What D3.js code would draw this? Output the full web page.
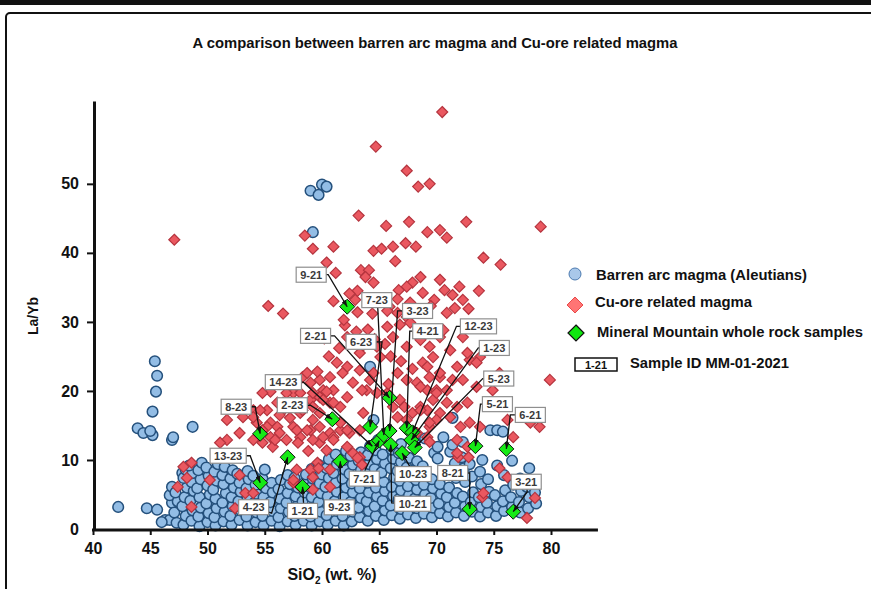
<html>
<head>
<meta charset="utf-8">
<style>
body {
  margin: 0;
  background: #ffffff;
}

svg {
  display: block;
  font-family: "Liberation Sans Narrow", "Arial Narrow", "Liberation Sans", Arial, sans-serif;
  font-weight: bold;
}
</style>
</head>
<body>
<script type="text/javascript" src="https://cdnjs.cloudflare.com/ajax/libs/d3/7.8.5/d3.min.js"></script>
<script type="text/javascript">
// barren arc magma (Aleutians): [SiO2, La/Yb]
var barren = [
  [42.2,3.2],[44.7,3.0],[45.6,2.8],[46.3,1.3],[46.7,1.3],[46.0,1.0],[46.9,3.8],[46.7,4.9],[46.9,6.1],[47.8,8.1],
  [45.4,24.3],[45.6,22.2],[45.5,19.9],[45.2,17.0],[43.9,14.6],[44.4,13.9],[45.2,13.6],[45.0,14.2],[46.9,12.9],[47.0,13.3],[48.7,14.8],
  [59.0,49.0],[59.7,48.4],[60.0,49.9],[60.4,49.6],[59.2,43.0],[64.2,23.5],
  [47.3,0.9],[47.1,2.4],[47.4,4.0],[47.2,5.3],
  [47.9,0.6],[48.1,1.9],[47.8,3.3],[48.0,4.6],[48.2,6.0],[47.9,7.4],[48.1,8.6],
  [48.6,1.2],[48.7,2.7],[48.5,4.1],[48.8,5.5],[48.6,6.8],[48.7,8.1],[48.4,9.2],
  [49.3,0.4],[49.2,1.8],[49.4,3.1],[49.3,4.6],[49.1,5.9],[49.4,7.2],[49.2,8.5],[49.5,9.6],
  [50.0,1.0],[50.1,2.3],[49.9,3.7],[50.2,5.0],[50.0,6.3],[50.1,7.7],[49.9,8.9],
  [50.7,0.5],[50.6,1.7],[50.8,3.0],[50.7,4.4],[50.5,5.7],[50.8,7.0],[50.6,8.3],[50.9,9.4],
  [51.4,1.1],[51.5,2.5],[51.3,3.8],[51.6,5.2],[51.4,6.5],[51.3,7.8],[51.5,9.0],
  [52.1,0.6],[52.0,1.9],[52.2,3.3],[52.1,4.6],[52.3,6.0],[52.0,7.3],[52.2,8.5],
  [52.8,1.3],[52.9,2.7],[52.7,4.0],[52.9,5.4],[52.8,6.7],[52.6,8.0],
  [53.5,0.5],[53.4,1.8],[53.6,3.1],[53.5,4.5],[53.4,5.9],[53.6,7.2],[53.5,8.4],
  [54.2,1.0],[54.3,2.4],[54.1,3.8],[54.3,5.1],[54.2,6.4],[54.0,7.7],
  [54.9,0.5],[54.8,1.9],[55.0,3.2],[54.9,4.6],[55.1,5.9],[54.8,7.3],[55.0,8.6],
  [55.6,1.2],[55.7,2.6],[55.5,3.9],[55.7,5.3],[55.6,6.7],
  [56.3,0.4],[56.2,1.7],[56.4,3.0],[56.3,4.4],[56.2,5.8],[56.4,7.1],
  [57.0,1.1],[57.1,2.5],[56.9,3.8],[57.0,5.2],[57.2,6.5],[57.0,7.8],
  [57.7,0.6],[57.6,1.9],[57.8,3.3],[57.7,4.7],[57.9,6.0],[57.6,7.4],
  [58.4,1.2],[58.5,2.6],[58.3,4.0],[58.5,5.3],[58.4,6.6],[58.6,7.9],
  [59.1,0.5],[59.0,1.8],[59.2,3.2],[59.1,4.6],[59.0,6.0],[59.2,7.3],[59.1,8.7],
  [59.8,1.1],[59.9,2.5],[59.7,3.9],[59.9,5.2],[59.8,6.6],[60.0,7.9],[59.7,9.3],
  [60.5,0.6],[60.4,2.0],[60.6,3.3],[60.5,4.7],[60.3,6.1],[60.6,7.4],[60.4,8.8],[60.6,10.1],
  [61.2,1.2],[61.3,2.6],[61.1,4.0],[61.3,5.4],[61.2,6.7],[61.0,8.1],[61.3,9.4],[61.2,10.8],
  [61.9,0.5],[61.8,1.9],[62.0,3.2],[61.9,4.6],[62.1,6.0],[61.8,7.3],[62.0,8.6],[61.9,10.0],[62.1,11.3],
  [62.6,1.1],[62.7,2.5],[62.5,3.9],[62.7,5.3],[62.6,6.6],[62.4,8.0],[62.7,9.3],[62.5,10.6],
  [63.3,1.7],[63.2,3.1],[63.4,4.5],[63.3,5.9],[63.1,7.2],[63.4,8.5],[63.2,9.9],[63.4,11.1],
  [64.0,1.2],[64.1,2.6],[63.9,4.0],[64.1,5.3],[64.0,6.7],[63.8,8.1],[64.1,9.4],[64.0,10.7],[64.2,12.0],
  [64.7,1.9],[64.6,3.3],[64.8,4.7],[64.7,6.0],[64.9,7.4],[64.6,8.7],[64.8,10.1],[64.7,11.4],[64.9,12.9],[64.5,15.8],
  [65.4,1.3],[65.5,2.7],[65.3,4.1],[65.5,5.5],[65.4,6.8],[65.2,8.2],[65.5,9.5],[65.3,10.8],
  [66.1,2.0],[66.0,3.4],[66.2,4.8],[66.1,6.1],[66.3,7.5],[66.0,8.8],[66.2,10.2],[66.1,11.5],
  [66.8,1.5],[66.9,2.9],[66.7,4.3],[66.9,5.6],[66.8,7.0],[66.6,8.4],[66.9,9.7],[66.7,11.0],[66.9,12.3],
  [67.5,2.1],[67.4,3.5],[67.6,4.9],[67.5,6.2],[67.7,7.6],[67.4,8.9],[67.6,10.3],
  [68.2,1.6],[68.3,3.0],[68.1,4.4],[68.3,5.7],[68.2,7.1],[68.0,8.5],[68.3,9.8],[68.1,12.6],
  [68.9,2.2],[68.8,3.6],[69.0,5.0],[68.9,6.4],[69.1,7.8],[68.8,9.1],[69.0,13.1],
  [69.6,1.7],[69.7,3.1],[69.5,4.5],[69.7,5.9],[69.6,7.2],[69.8,11.0],[70.1,11.9],
  [70.3,2.3],[70.2,3.7],[70.4,5.1],[70.3,6.5],[70.1,10.2],[70.6,13.3],
  [71.0,1.8],[71.1,3.2],[70.9,4.6],[71.1,6.0],[71.0,8.4],[71.4,16.1],[71.2,11.2],[71.4,12.2],
  [71.7,2.4],[71.6,3.8],[71.8,5.2],[71.7,7.4],[71.6,9.5],[72.3,12.6],
  [72.4,1.9],[72.5,3.3],[72.3,4.7],[72.5,6.8],[72.4,8.8],[72.2,10.4],
  [73.1,2.5],[73.0,3.9],[73.2,5.3],[73.1,7.6],[72.9,9.4],
  [73.8,1.8],[73.9,3.2],[73.7,4.6],[73.9,6.5],[73.8,8.3],[74.0,10.0],
  [74.5,2.4],[74.4,3.8],[74.6,5.4],[74.5,7.2],[74.7,14.3],
  [75.2,1.9],[75.3,3.3],[75.1,4.9],[75.3,9.2],[75.3,14.3],
  [75.9,2.6],[75.8,4.0],[76.0,5.6],[75.9,7.8],[75.8,14.1],
  [76.6,3.2],[76.5,4.6],[76.7,6.4],[76.6,9.9],
  [77.3,2.4],[77.2,3.9],[77.4,5.5],[77.3,7.3],
  [78.0,3.0],[78.1,4.6],[77.9,6.1],[78.1,8.8],
  [78.7,3.7],[78.6,5.3]
]

// Cu-ore related magma: [SiO2, La/Yb]
var cuOre = [
  [70.5,60.4],[64.7,55.4],[67.4,51.9],[68.4,49.6],[69.4,50.0],[63.2,45.4],[65.6,43.9],[67.6,44.5],[72.6,44.5],[79.1,43.8],
  [69.2,43.0],[70.3,43.3],[70.9,42.2],[58.5,42.5],[59.2,40.6],[61.0,40.9],[64.5,40.3],[65.2,40.6],[66.2,40.9],[67.3,41.4],
  [68.2,40.9],[66.4,38.8],[74.1,39.3],[75.6,38.3],[60.4,38.6],[61.2,37.1],[63.4,37.5],[64.1,37.5],[63.8,36.5],[64.5,35.7],
  [68.6,36.5],[67.9,35.7],[67.4,35.1],[70.7,34.6],[71.4,33.9],[72.0,35.1],[73.7,34.5],[66.7,34.6],[66.6,33.3],[63.1,34.5],
  [62.4,34.1],[62.9,33.2],[61.0,33.0],[69.8,33.2],[69.5,32.3],[67.7,32.8],[65.9,32.2],[63.1,31.4],[64.4,31.2],[65.7,31.6],
  [70.9,31.3],[71.6,32.0],[72.8,31.9],[47.1,41.9],[55.3,32.3],[56.6,31.2],[79.9,21.6],[70.3,36.1],[68.8,34.2],[72.3,33.2],
  [65.7,29.3],[66.8,29.6],[66.2,27.8],[67.4,26.4],[68.6,27.4],[69.4,26.4],[70.3,27.8],[64.8,26.4],[65.1,24.9],[62.2,27.8],
  [62.7,27.0],[61.3,24.1],[62.2,23.5],[63.3,23.0],[64.5,22.6],[62.7,21.2],[63.9,20.1],[64.8,19.7],[58.3,22.0],[59.0,21.2],
  [59.8,21.6],[60.1,20.1],[61.0,20.1],[67.4,30.7],[67.7,29.9],[66.6,31.3],[70.6,28.8],[71.2,25.9],[72.3,27.8],[72.9,24.5],
  [71.8,23.5],[73.8,24.9],[71.4,21.6],[72.3,21.6],[73.5,20.6],[74.9,20.1],[75.5,22.6],[68.8,24.1],[69.4,22.0],[68.3,21.2],
  [69.2,20.1],[70.0,20.1],[70.9,20.1],[69.7,24.9],[69.2,23.5],[70.3,22.0],[68.6,20.6],[61.8,22.6],[63.3,25.5],[64.2,21.6],
  [63.5,20.1],[66.6,22.6],[67.4,21.6],[70.3,22.6],[72.7,25.5],[73.5,24.1],[58.7,22.6],[59.6,22.8],[60.7,22.0],[57.5,19.7],
  [55.5,19.9],[56.9,19.7],[54.8,19.7],[65.7,19.7],[62.0,29.5],[63.0,28.6],[64.0,28.9],[64.6,27.5],[63.6,26.6],[61.5,26.2],
  [60.6,25.0],[65.5,26.8],[60.2,27.6],[61.9,30.3],[66.0,25.0],[67.9,23.2],[65.8,21.0],[66.9,24.3],
  [61.6,17.7],[62.2,19.1],[60.7,18.3],[59.8,19.1],[59.0,18.7],[58.1,19.7],[57.2,18.3],[56.6,17.2],[56.1,18.3],[55.2,17.2],
  [54.0,17.2],[53.1,16.2],[51.7,15.8],[54.3,15.4],[55.5,15.4],[56.1,14.8],[51.7,12.9],[52.8,13.9],[54.0,12.9],[55.5,13.3],
  [56.3,13.9],[56.9,12.9],[58.1,13.3],[59.0,14.3],[59.8,14.8],[60.7,13.9],[61.6,14.3],[62.4,13.9],[63.3,14.3],[59.8,12.5],
  [60.4,11.4],[62.2,11.9],[62.7,11.0],[59.2,17.7],[59.8,16.8],[58.1,16.8],[69.7,18.7],[68.6,17.7],[70.3,16.8],[66.2,17.7],
  [66.8,18.7],[67.4,15.8],[67.9,16.8],[68.3,13.9],[69.2,13.3],[69.4,14.8],[70.0,15.8],[71.8,12.9],[72.7,11.9],[70.9,18.3],
  [71.8,17.7],[72.7,18.3],[72.9,15.4],[73.8,14.8],[72.1,14.8],[71.2,16.2],[76.2,15.8],[76.7,13.3],[78.2,15.4],[79.0,14.8],
  [70.0,19.7],[69.2,17.2],[71.9,10.4],[72.8,10.4],[75.5,8.8],[76.2,7.5],[74.0,4.6],[78.6,4.5],[77.9,1.6],[71.8,11.0],
  [69.4,12.6],[63.6,16.8],[61.6,15.4],[62.2,14.3],[63.3,10.4],[61.0,13.3],[54.6,17.2],[55.2,14.8],[54.8,12.5],[55.7,11.9],
  [54.0,16.2],[51.1,12.5],[52.8,7.8],[53.3,5.2],[54.0,5.2],[48.6,9.6],[47.9,9.0],[47.4,6.1],[48.6,3.2],[50.2,7.1],
  [52.4,3.0],[48.2,7.4],[56.3,16.5],[57.2,16.1],[57.5,14.8],[57.8,14.3],[58.7,14.3],[59.2,15.8],[58.3,17.2],[59.2,19.7],
  [60.4,19.9],[61.0,18.3],[60.1,18.7],[56.6,18.3],[59.2,12.9],[60.1,13.3],[61.0,12.9],[59.6,9.6],[59.0,8.6],[57.5,6.7],
  [58.1,6.1],[59.2,7.5],[60.7,8.6],[60.7,6.1],[59.2,5.7],[57.5,7.1],[57.8,8.6],[59.7,8.8],[63.1,10.3],[63.5,9.3],
  [55.9,12.9],[54.8,14.3],[58.8,11.3],[57.9,12.5],[74.1,5.2],[66.6,16.2],[68.6,17.2],[69.4,15.4],[67.2,17.7]
]

// Mineral Mountain whole rock samples
var sampleIds = ['9-21','2-21','6-23','14-23','7-21','7-23','3-23','10-21','4-21','12-23','1-23','5-23',
  '10-23','2-23','8-23','13-23','4-23','1-21','9-23','5-21','6-21','8-21','3-21']
var sampleSio2 = [62.2,65.9,64.2,64.4,65.0,65.4,65.9,66.0,67.4,67.9,67.8,68.1,
  67.0,60.9,54.6,54.6,57.0,58.3,61.6,73.4,76.1,72.9,76.7]
var sampleLaYb = [32.2,19.0,14.8,12.0,12.8,13.6,14.2,12.2,14.6,14.0,12.9,11.8,
  11.0,15.9,13.8,6.7,10.4,6.1,9.8,12.0,11.6,2.9,2.5]

var xTicks = [40,45,50,55,60,65,70,75,80]
var yTicks = [0,10,20,30,40,50]

// label placement, pixels from the marker: box centre dx,dy then leader elbow dx,dy
var labelLayout = {
  '9-21': [-36,-32,-19,-32], '2-21': [-74,-62,-55,-62], '6-23': [-9,-85,12,-85],
  '14-23': [-89,-64,-69,-64], '7-21': [-15,38,-14,29], '7-23': [-7,-135,-6,-126],
  '3-23': [28,-120,8,-120], '10-21': [22,59,1,58], '4-21': [21,-97,3,-97],
  '12-23': [66,-106,44,-106], '1-23': [83,-92,67,-92], '5-23': [84,-69,68,-69],
  '10-23': [11,21,8,14], '2-23': [-40,-14,-22,-14], '8-23': [-24,-27,-5,-27],
  '13-23': [-32,-27,-10,-27], '4-23': [-34,50,-16,56], '1-21': [0,24,1,16],
  '9-23': [-1,46,0,38], '5-21': [22,-42,5,-42], '6-21': [24,-34,4,-34],
  '8-21': [-17,-36,0,-36], '3-21': [13,-30,14,-20]
}

var width = 871,
    height = 589;

var svg = d3.select("body")
  .append("svg")
  .attr("width", width)
  .attr("height", height)

var x = d3.scaleLinear().domain([40, 80]).range([93, 551])
var y = d3.scaleLinear().domain([0, 62]).range([529, 101])

// slide frame
svg.append("rect")
  .attr("x", 0).attr("y", 0)
  .attr("width", width).attr("height", 5)
  .attr("fill", "#111")
svg.append("rect")
  .attr("x", 6).attr("y", 13)
  .attr("width", width + 20).attr("height", height + 20)
  .attr("rx", 4)
  .attr("fill", "none")
  .attr("stroke", "#111")
  .attr("stroke-width", 2)

svg.append("text")
  .attr("x", 435)
  .attr("y", 48)
  .attr("text-anchor", "middle")
  .attr("font-size", 14)
  .attr("textLength", 485)
  .attr("lengthAdjust", "spacingAndGlyphs")
  .attr("fill", "#111")
  .text("A comparison between barren arc magma and Cu-ore related magma")

var diamond = function(r) {
  return "M0," + (-r) + "L" + r + ",0L0," + r + "L" + (-r) + ",0Z"
}

// barren circles
svg.append("g")
  .selectAll("circle")
  .data(barren)
  .enter().append("circle")
  .attr("cx", function(d) { return x(d[0]) })
  .attr("cy", function(d) { return y(d[1]) })
  .attr("r", 5.3)
  .attr("fill", "#93bde5")
  .attr("stroke", "#24507c")
  .attr("stroke-width", 1.5)

// Cu-ore diamonds
svg.append("g")
  .selectAll("path")
  .data(cuOre)
  .enter().append("path")
  .attr("d", diamond(5.5))
  .attr("transform", function(d) { return "translate(" + x(d[0]) + "," + y(d[1]) + ")" })
  .attr("fill", "#ea5860")
  .attr("stroke", "#b5343e")
  .attr("stroke-width", 1.2)

// axes
var yAxis = d3.axisLeft(y).tickValues(yTicks).tickSize(7).tickPadding(8).tickSizeOuter(0)
var yg = svg.append("g")
  .attr("transform", "translate(94,0)")
  .call(yAxis)
yg.select(".domain").attr("stroke-width", 3).attr("stroke", "#111")
yg.selectAll(".tick line").attr("stroke-width", 2).attr("stroke", "#111")
  .filter(function(d) { return d === 0 }).remove()
yg.selectAll(".tick text").attr("font-size", 16).attr("font-family", null).attr("fill", "#111")

var xAxis = d3.axisBottom(x).tickValues(xTicks).tickSize(5).tickPadding(8).tickSizeOuter(0)
var xg = svg.append("g")
  .attr("transform", "translate(0,530)")
  .call(xAxis)
xg.select(".domain").remove()
xg.selectAll(".tick line").attr("stroke-width", 2).attr("stroke", "#111")
xg.selectAll(".tick text").attr("font-size", 16).attr("font-family", null).attr("fill", "#111")
xg.append("line")
  .attr("x1", x(40) - 1).attr("x2", x(84.1))
  .attr("stroke", "#111")
  .attr("stroke-width", 3)

svg.append("text")
  .attr("transform", "translate(38,316) rotate(-90)")
  .attr("text-anchor", "middle")
  .attr("font-size", 14)
  .attr("fill", "#111")
  .text("La/Yb")

var xt = svg.append("text")
  .attr("x", 332)
  .attr("y", 580)
  .attr("text-anchor", "middle")
  .attr("font-size", 16)
  .attr("fill", "#111")
xt.append("tspan").text("SiO")
xt.append("tspan").attr("font-size", 10).attr("dy", 4).text("2")
xt.append("tspan").attr("dy", -4).text(" (wt. %)")

// Mineral Mountain samples
var samples = sampleIds.map(function(id, i) {
  return { id: id, sx: x(sampleSio2[i]), sy: y(sampleLaYb[i]) }
})

svg.append("g")
  .selectAll("path")
  .data(samples)
  .enter().append("path")
  .attr("d", diamond(7.5))
  .attr("transform", function(d) { return "translate(" + d.sx + "," + d.sy + ")" })
  .attr("fill", "#16ea16")
  .attr("stroke", "#111")
  .attr("stroke-width", 1)

svg.append("defs").append("marker")
  .attr("id", "arrow")
  .attr("viewBox", "0 0 8 6")
  .attr("refX", 8).attr("refY", 3)
  .attr("markerWidth", 7).attr("markerHeight", 5)
  .attr("markerUnits", "userSpaceOnUse")
  .attr("orient", "auto")
  .append("path")
  .attr("d", "M0,0L8,3L0,6Z")
  .attr("fill", "#111")

svg.append("g")
  .selectAll("path")
  .data(samples)
  .enter().append("path")
  .attr("d", function(d) {
    var l = labelLayout[d.id]
    return "M" + (d.sx + l[0]) + "," + (d.sy + l[1]) +
      "L" + (d.sx + l[2]) + "," + (d.sy + l[3]) +
      "L" + d.sx + "," + d.sy
  })
  .attr("fill", "none")
  .attr("stroke", "#111")
  .attr("stroke-width", 1.3)
  .attr("marker-end", "url(#arrow)")

var labels = svg.append("g")
  .selectAll("g")
  .data(samples)
  .enter().append("g")
  .attr("transform", function(d) {
    var l = labelLayout[d.id]
    return "translate(" + (d.sx + l[0]) + "," + (d.sy + l[1]) + ")"
  })

labels.append("rect")
  .attr("fill", "#fff")
  .attr("stroke", "#8f8f8f")
  .attr("stroke-width", 1.2)

labels.append("text")
  .attr("text-anchor", "middle")
  .attr("dy", 4)
  .attr("font-size", 11)
  .attr("fill", "#3a3a3a")
  .text(function(d) { return d.id })

labels.each(function() {
  var g = d3.select(this)
  var w = g.select("text").node().getComputedTextLength() + 8
  g.select("rect")
    .attr("x", -w / 2).attr("y", -7.5)
    .attr("width", w).attr("height", 15)
})

// legend
var legend = svg.append("g")

legend.append("circle")
  .attr("cx", 575).attr("cy", 274).attr("r", 6)
  .attr("fill", "#a9c8ea").attr("stroke", "#4d7bb0").attr("stroke-width", 1)
legend.append("path")
  .attr("d", diamond(8))
  .attr("transform", "translate(575,305)")
  .attr("fill", "#ff7474").attr("stroke", "#e84a4a").attr("stroke-width", 1)
legend.append("path")
  .attr("d", diamond(8))
  .attr("transform", "translate(576,333)")
  .attr("fill", "#10e810").attr("stroke", "#111").attr("stroke-width", 1.2)
legend.append("rect")
  .attr("x", 575).attr("y", 358).attr("width", 42).attr("height", 13)
  .attr("fill", "#fff").attr("stroke", "#111").attr("stroke-width", 1.5)
legend.append("text")
  .attr("x", 596).attr("y", 369)
  .attr("text-anchor", "middle")
  .attr("font-size", 11)
  .attr("fill", "#111")
  .text("1-21")

var legendItems = [
  { text: "Barren arc magma (Aleutians)", x: 596, y: 280, w: 211 },
  { text: "Cu-ore related magma", x: 595, y: 307, w: 157 },
  { text: "Mineral Mountain whole rock samples", x: 597, y: 337, w: 266 },
  { text: "Sample ID MM-01-2021", x: 630, y: 368, w: 159 }
]

legend.selectAll("text.item")
  .data(legendItems)
  .enter().append("text")
  .attr("class", "item")
  .attr("x", function(d) { return d.x })
  .attr("y", function(d) { return d.y })
  .attr("font-size", 15)
  .attr("textLength", function(d) { return d.w })
  .attr("lengthAdjust", "spacingAndGlyphs")
  .attr("fill", "#111")
  .text(function(d) { return d.text })
</script>
</body>
</html>
